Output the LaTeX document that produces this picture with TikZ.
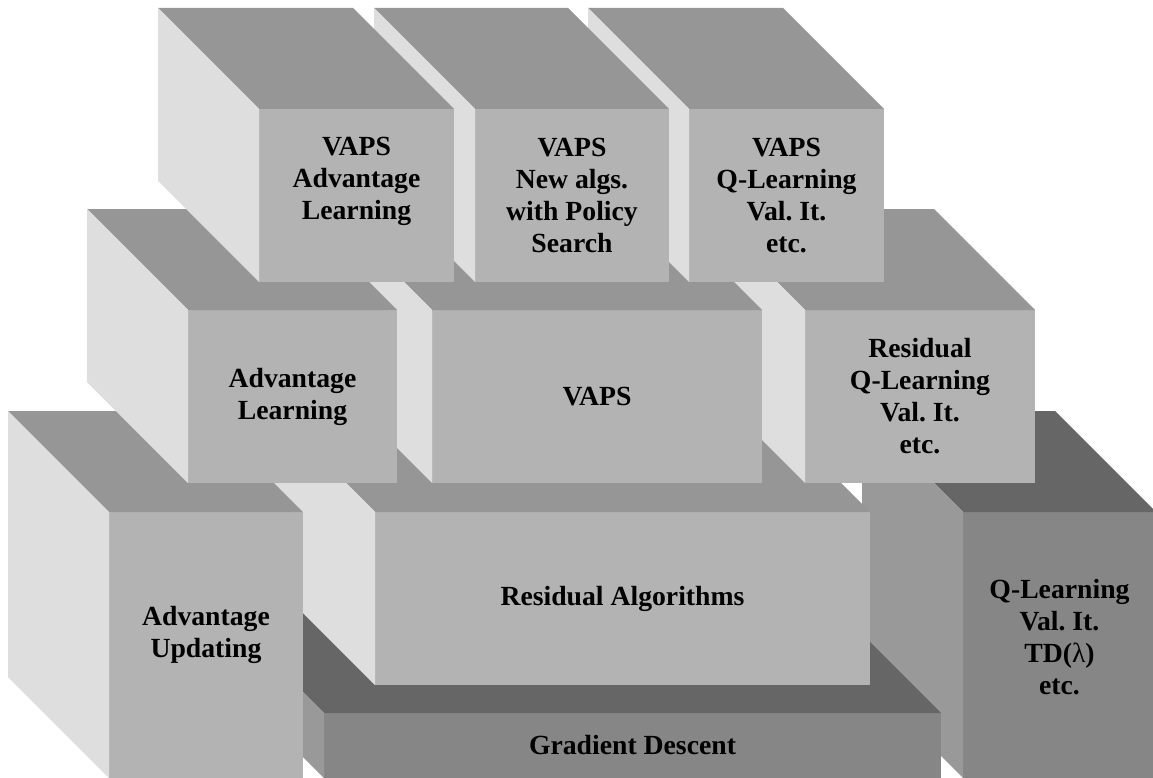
\documentclass[tikz,border=0pt]{standalone}
\usepackage{fontspec}
\setmainfont{Liberation Serif}
\frenchspacing
\definecolor{frontgray}{HTML}{B3B3B3}
\definecolor{topgray}{HTML}{969696}
\definecolor{sidegray}{HTML}{DEDEDE}
\definecolor{dfrontgray}{HTML}{868686}
\definecolor{dtopgray}{HTML}{666666}
\definecolor{dsidegray}{HTML}{999999}
\tikzset{face/.style={draw=none, inner sep=0pt, outer sep=0pt}}
\tikzset{lite/.style={fill=frontgray}, litetop/.style={fill=topgray}, liteside/.style={fill=sidegray}}
\tikzset{dark/.style={fill=dfrontgray}, darktop/.style={fill=dtopgray}, darkside/.style={fill=dsidegray}}
\tikzset{lbl/.style={align=center, inner sep=0pt, font=\bfseries\fontsize{27.7}{32}\selectfont}}
% name, left, top, width, height, kind, text shift, text
\newcommand{\blok}[8]{%
  \node[face,#6,minimum width=#4pt,minimum height=#5pt,anchor=north west] (#1) at (#2,#3) {};
  \fill[#6top] (#1.north west) -- ++(-101,-101) -- ++(#4,0) -- (#1.north east) -- cycle;
  \fill[#6side] (#1.north west) -- ++(-101,-101) -- ++(0,#5) -- (#1.south west) -- cycle;
  \node[lbl] (#1 text) at ([yshift=#7pt]#1.center) {#8};
}

\begin{document}
\begin{tikzpicture}[x=1pt, y=-1pt]
\clip (0,0) rectangle (1153,778);

% bottom layer
\blok{ql}{963}{512}{193}{266}{dark}{8}{Q-Learning\\Val. It.\\TD({\mdseries λ})\\etc.}
\blok{gd}{324}{713}{617}{65}{dark}{0}{Gradient Descent}
\blok{ra}{375}{512}{495}{173}{lite}{0}{Residual Algorithms}
\blok{au}{109}{512}{194}{266}{lite}{10}{Advantage\\Updating}

% middle layer
\blok{rql}{805}{310}{230}{173}{lite}{0}{Residual\\Q-Learning\\Val. It.\\etc.}
\blok{vaps}{432}{310}{330}{173}{lite}{0}{VAPS}
\blok{al}{188}{310}{209}{173}{lite}{0}{Advantage\\Learning}

% top layer
\blok{vql}{689}{109}{195}{173}{lite}{0}{VAPS\\Q-Learning\\Val. It.\\etc.}
\blok{vnew}{475}{109}{194}{173}{lite}{0}{VAPS\\New algs.\\with Policy\\Search}
\blok{val}{259}{109}{195}{173}{lite}{14}{VAPS\\Advantage\\Learning}
\end{tikzpicture}
\end{document}
